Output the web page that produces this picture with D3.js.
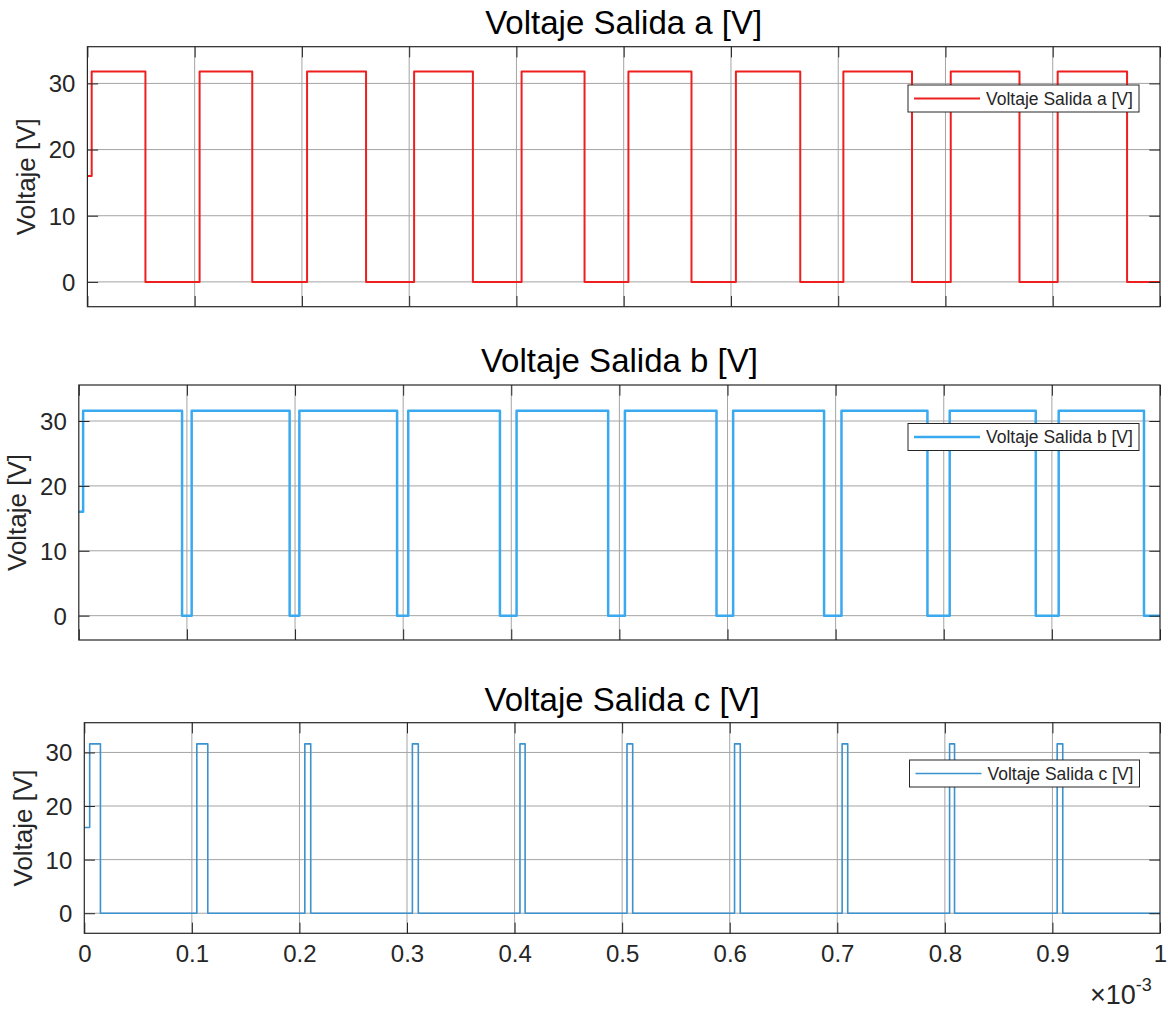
<!DOCTYPE html>
<html><head><meta charset="utf-8">
<script src="https://cdn.jsdelivr.net/npm/d3@7"></script>
<style>body{margin:0;background:#fff} svg{display:block}</style>
</head><body>
<svg id="chart" width="1168" height="1016"></svg>
<script>
// ---- data (time in units of 1e-3 s, voltage in V) ----
const xTicks = [0, 0.1, 0.2, 0.3, 0.4, 0.5, 0.6, 0.7, 0.8, 0.9, 1];
const xTickLabels = ["0", "0.1", "0.2", "0.3", "0.4", "0.5", "0.6", "0.7", "0.8", "0.9", "1"];
const yTicks = [0, 10, 20, 30];
const yTickLabels = ["0", "10", "20", "30"];
const titles = ["Voltaje Salida a [V]", "Voltaje Salida b [V]", "Voltaje Salida c [V]"];
const yLabel = "Voltaje [V]";

const timeA = [0, 0.004, 0.0541, 0.1046, 0.1537, 0.2048, 0.2598, 0.3046, 0.3594, 0.4048, 0.4635, 0.5044, 0.5632, 0.6046, 0.6646, 0.7048, 0.7688, 0.8049, 0.8690, 0.9046, 0.9693, 1];
const voltA = [16, 31.8, 0, 31.8, 0, 31.8, 0, 31.8, 0, 31.8, 0, 31.8, 0, 31.8, 0, 31.8, 0, 31.8, 0, 31.8, 0, 0];

const timeB = [0, 0.004, 0.0955, 0.1044, 0.1950, 0.2040, 0.2944, 0.3047, 0.3895, 0.4049, 0.4896, 0.5051, 0.5898, 0.6052, 0.6893, 0.7054, 0.7849, 0.8055, 0.8851, 0.9063, 0.9852, 1];
const voltB = [16, 31.6, 0, 31.6, 0, 31.6, 0, 31.6, 0, 31.6, 0, 31.6, 0, 31.6, 0, 31.6, 0, 31.6, 0, 31.6, 0, 0];

const timeC = [0, 0.005, 0.0150, 0.1046, 0.1148, 0.2050, 0.2105, 0.3050, 0.3105, 0.4050, 0.4098, 0.5045, 0.5098, 0.6045, 0.6098, 0.7045, 0.7097, 0.8044, 0.8090, 0.9044, 0.9096, 1];
const voltC = [16, 31.6, 0, 31.6, 0, 31.6, 0, 31.6, 0, 31.6, 0, 31.6, 0, 31.6, 0, 31.6, 0, 31.6, 0, 31.6, 0, 0];

// ---- layout ----
const FONT = "'Liberation Sans', Arial, Helvetica, sans-serif";
const TXT = "#262626";
const panels = [
  {time: timeA, volt: voltA, color: "#ee1f1f", width: 2, left: 87.4, top: 46.7, bottom: 306.7, titleY: 34, legend: {x: 908, y: 85, w: 231, h: 27}, xLabels: false},
  {time: timeB, volt: voltB, color: "#3aaaf0", width: 2.5, left: 78.8, top: 385, bottom: 640, titleY: 372, legend: {x: 908, y: 423.5, w: 231, h: 27}, xLabels: false},
  {time: timeC, volt: voltC, color: "#3b92cf", width: 1.6, left: 84.3, top: 722.7, bottom: 933.3, titleY: 711, legend: {x: 909.5, y: 760, w: 230, h: 27}, xLabels: true}
];
const RIGHT = 1160;
const svg = d3.select("#chart");
svg.append("rect").attr("width", 1168).attr("height", 1016).attr("fill", "#fff");

panels.forEach((p, i) => {
  const x = d3.scaleLinear().domain([0, 1]).range([p.left, RIGHT]);
  const y = d3.scaleLinear().domain([-3.75, 35.55]).range([p.bottom, p.top]);
  const g = svg.append("g");
  const W = RIGHT - p.left, H = p.bottom - p.top;

  // grid
  g.append("g").selectAll("line").data(xTicks.slice(1, -1)).join("line")
    .attr("x1", d => x(d)).attr("x2", d => x(d)).attr("y1", p.top).attr("y2", p.bottom)
    .attr("stroke", "#a4a4a4").attr("stroke-width", 1);
  g.append("g").selectAll("line").data(yTicks).join("line")
    .attr("x1", p.left).attr("x2", RIGHT).attr("y1", d => y(d)).attr("y2", d => y(d))
    .attr("stroke", "#a4a4a4").attr("stroke-width", 1);

  // line
  const line = d3.line().x(d => x(d[0])).y(d => y(d[1])).curve(d3.curveStepAfter);
  const pts = p.time.map((t, k) => [t, p.volt[k]]);
  g.append("path").datum(pts).attr("d", line).attr("fill", "none")
    .attr("stroke", p.color).attr("stroke-width", p.width).attr("stroke-linejoin", "round");

  // axes via d3 axis (ticks inside)
  const gxB = g.append("g").attr("transform", `translate(0,${p.bottom})`)
    .call(d3.axisBottom(x).tickValues(xTicks).tickSize(-10.7)
      .tickFormat((d, k) => p.xLabels ? xTickLabels[k] : "").tickPadding(12));
  const gxT = g.append("g").attr("transform", `translate(0,${p.top})`)
    .call(d3.axisTop(x).tickValues(xTicks).tickSize(-10.7).tickFormat(""));
  const gyL = g.append("g").attr("transform", `translate(${p.left},0)`)
    .call(d3.axisLeft(y).tickValues(yTicks).tickSize(-10.7).tickFormat((d, k) => yTickLabels[k]).tickPadding(12));
  const gyR = g.append("g").attr("transform", `translate(${RIGHT},0)`)
    .call(d3.axisRight(y).tickValues(yTicks).tickSize(-10.7).tickFormat(""));
  [gxB, gxT, gyL, gyR].forEach(a => {
    a.select(".domain").remove();
    a.selectAll(".tick line").attr("stroke", TXT).attr("stroke-width", 1);
    a.selectAll("text").attr("fill", TXT).attr("font-family", FONT).attr("font-size", 24);
  });
  gyL.selectAll("text").attr("dy", "0.35em");
  gxB.selectAll("text").attr("dy", "0.71em");

  // box
  g.append("rect").attr("x", p.left).attr("y", p.top).attr("width", W).attr("height", H)
    .attr("fill", "none").attr("stroke", TXT).attr("stroke-width", 1.2);

  // title
  svg.append("text").attr("x", (p.left + RIGHT) / 2).attr("y", p.titleY)
    .attr("text-anchor", "middle").attr("font-family", FONT).attr("font-size", 33)
    .attr("fill", "#000").text(titles[i]);

  // y label
  svg.append("text").attr("transform", `translate(${p.left - 52.4},${(p.top + p.bottom) / 2}) rotate(-90)`)
    .attr("text-anchor", "middle").attr("font-family", FONT).attr("font-size", 26)
    .attr("fill", TXT).text(yLabel);

  // legend
  const L = p.legend;
  const lg = svg.append("g").attr("transform", `translate(${L.x},${L.y})`);
  lg.append("rect").attr("width", L.w).attr("height", L.h).attr("fill", "#fff")
    .attr("stroke", TXT).attr("stroke-width", 1);
  lg.append("line").attr("x1", 6).attr("x2", 72).attr("y1", L.h / 2).attr("y2", L.h / 2)
    .attr("stroke", p.color).attr("stroke-width", p.width);
  lg.append("text").attr("x", 78).attr("y", L.h / 2).attr("dy", "0.35em")
    .attr("font-family", FONT).attr("font-size", 17.5).attr("fill", TXT).text(titles[i]);
});

// x exponent
const ex = svg.append("text").attr("x", 1090).attr("y", 1004).attr("font-family", FONT)
  .attr("fill", TXT).attr("font-size", 27);
ex.append("tspan").text("\u00d710");
ex.append("tspan").attr("font-size", 18).attr("dy", -13).text("-3");
</script>
</body></html>
